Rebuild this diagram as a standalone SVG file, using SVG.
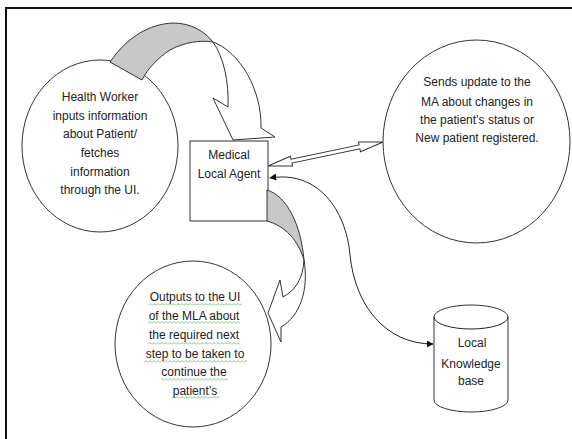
<svg xmlns="http://www.w3.org/2000/svg" width="572" height="439" viewBox="0 0 572 439">
<defs>
<style>
.t{font-family:"Liberation Sans",Arial,sans-serif;font-size:12px;fill:#222;text-anchor:middle}
.o{fill:#fff;stroke:#333;stroke-width:1}
.g{fill:#c8c8c8;stroke:#333;stroke-width:1;stroke-linejoin:round}
.w{fill:#fff;stroke:#333;stroke-width:1;stroke-linejoin:miter}
.c{fill:none;stroke:#222;stroke-width:1}
.wv{fill:url(#wave)}
</style>
<pattern id="wave" width="4" height="3" patternUnits="userSpaceOnUse">
<path d="M0,2.5 L2,0.5 L4,2.5" fill="none" stroke="#5cb85c" stroke-width="0.8"/>
</pattern>
<marker id="ah" viewBox="0 0 10 10" refX="9" refY="5" markerWidth="7" markerHeight="7" markerUnits="userSpaceOnUse" orient="auto-start-reverse">
<path d="M0,0 L10,5 L0,10 Z" fill="#111"/>
</marker>
</defs>
<rect width="572" height="439" fill="#fff"/>
<g id="border">
<path d="M6,439 L6,8 L572,8" fill="none" stroke="#111" stroke-width="2"/>
</g>
<g id="health-worker">
<ellipse class="o" cx="100" cy="146" rx="78" ry="86"/>
<text class="t" x="100" y="101">Health Worker</text>
<text class="t" x="100" y="120">inputs information</text>
<text class="t" x="100" y="138">about Patient/</text>
<text class="t" x="100" y="157">fetches</text>
<text class="t" x="100" y="176">information</text>
<text class="t" x="100" y="194">through the UI.</text>
</g>
<g id="update-circle">
<ellipse class="o" cx="476.5" cy="141.5" rx="93.5" ry="101.5"/>
<text class="t" x="477" y="86">Sends update to the</text>
<text class="t" x="477" y="106">MA about changes in</text>
<text class="t" x="477" y="124">the patient’s status or</text>
<text class="t" x="477" y="142">New patient registered.</text>
</g>
<g id="mla">
<rect class="o" x="190" y="141" width="78" height="80"/>
<text class="t" x="229" y="159">Medical</text>
<text class="t" x="229" y="178">Local Agent</text>
</g>
<g id="knowledge-base">
<path class="o" d="M434,317 L434,400 A37,12 0 0 0 508,400 L508,317 A37,12 0 0 0 434,317 Z"/>
<path class="c" d="M434,317 A37,12 0 0 0 508,317" stroke="#333"/>
<text class="t" x="472" y="347">Local</text>
<text class="t" x="471" y="368">Knowledge</text>
<text class="t" x="471" y="385">base</text>
</g>
<g id="connectors">
<g id="arrow-hw-mla">
<path class="g" d="M142,80 L110,62 C128,36 150,24 173,23 C192,23 205,32 213,42 C200,40 185,42 170,50 C158,58 148,68 142,80 Z"/>
<path class="w" d="M213,42 C240,52 262,90 261,128 L275,137 L233,140 L213,98 L228,107 C229,82 224,58 213,42 Z"/>
</g>
<g id="arrow-mla-output">
<path class="g" d="M267,190 C287,196 301,225 304,260 C298,240 285,226 267,221 Z"/>
<path class="w" d="M304,260 C309,290 300,316 281,327 L281,342 L268,313 L280,280 L283,297 C296,290 303,278 304,260 Z"/>
</g>
<g id="double-arrow" transform="translate(268,166) rotate(-11.8)">
<polygon class="w" points="0,0 24,-5 24,-2 93.5,-2 93.5,-5 117.5,0 93.5,5 93.5,2 24,2 24,5"/>
</g>
<path id="mla-kb" class="c" d="M270,178 C318,170 346,210 350,255 C355,305 385,344 433,344" marker-start="url(#ah)" marker-end="url(#ah)"/>
</g>
<g id="output-circle">
<ellipse cx="193" cy="344" rx="78" ry="83" fill="none" stroke="#333" stroke-width="1"/>
<rect class="wv" x="148" y="303" width="94" height="3"/>
<rect class="wv" x="148" y="321" width="92" height="3"/>
<rect class="wv" x="148" y="342" width="92" height="3"/>
<rect class="wv" x="144" y="360" width="103" height="3"/>
<rect class="wv" x="161" y="378" width="67" height="3"/>
<rect class="wv" x="171" y="396" width="49" height="3"/>
<text class="t" x="195" y="301">Outputs to the UI</text>
<text class="t" x="194" y="320">of the MLA about</text>
<text class="t" x="194" y="339">the required next</text>
<text class="t" x="195" y="358">step to be taken to</text>
<text class="t" x="194" y="376">continue the</text>
<text class="t" x="195" y="395">patient’s</text>
</g>
</svg>
